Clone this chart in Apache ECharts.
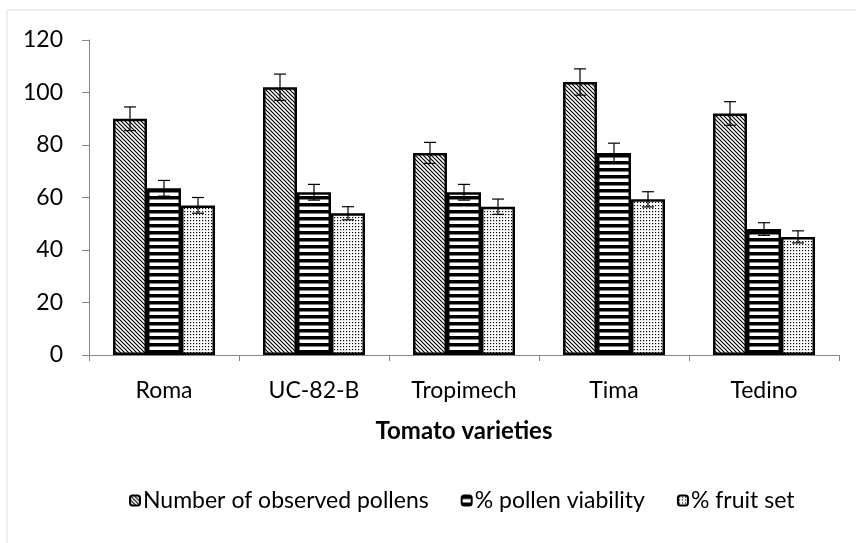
<!DOCTYPE html>
<html>
<head>
<meta charset="utf-8">
<script src="https://cdn.jsdelivr.net/npm/echarts@6/dist/echarts.min.js"></script>
<style>
  html, body { margin: 0; padding: 0; background: #fff; }
  #chart { width: 856px; height: 543px; }
</style>
</head>
<body>
<div id="chart"></div>
<script>
// 数据
const varieties = ['Roma', 'UC-82-B', 'Tropimech', 'Tima', 'Tedino'];
const seriesNames = ['Number of observed pollens', '% pollen viability', '% fruit set'];
const pollens = [90, 102, 77, 104, 92];
const pollensErr = [4.5, 5, 4, 5, 4.5];
const viability = [63.5, 62, 62, 77, 48];
const viabilityErr = [3, 3, 3, 3.7, 2.4];
const fruitSet = [57, 54, 56.5, 59.3, 45];
const fruitSetErr = [3, 2.5, 2.9, 2.9, 2.3];
const yTicks = [0, 20, 40, 60, 80, 100, 120];

const values = [pollens, viability, fruitSet];
const errors = [pollensErr, viabilityErr, fruitSetErr];

// 填充图案
function makePattern(kind) {
    const c = document.createElement('canvas');
    const ctx = c.getContext('2d');
    if (kind === 'diag') {
        c.width = 4; c.height = 4;
        ctx.fillStyle = '#fff'; ctx.fillRect(0, 0, 4, 4);
        ctx.strokeStyle = '#000'; ctx.lineWidth = 1.2;
        ctx.beginPath();
        ctx.moveTo(-1, -1); ctx.lineTo(5, 5);
        ctx.moveTo(-1, 3); ctx.lineTo(1, 5);
        ctx.moveTo(3, -1); ctx.lineTo(5, 1);
        ctx.stroke();
    } else if (kind === 'hstripe') {
        c.width = 8; c.height = 7;
        ctx.fillStyle = '#fff'; ctx.fillRect(0, 0, 8, 7);
        ctx.fillStyle = '#000'; ctx.fillRect(0, 0, 8, 3.5);
    } else {
        c.width = 3; c.height = 3;
        ctx.fillStyle = '#fff'; ctx.fillRect(0, 0, 3, 3);
        ctx.fillStyle = '#000'; ctx.fillRect(1, 1, 1.2, 1.2);
    }
    return { image: c, repeat: 'repeat' };
}
const patterns = [makePattern('diag'), makePattern('hstripe'), makePattern('dots')];

const barCatGap = 0.32;

// 误差线
function errorSeries(idx) {
    return {
        type: 'custom',
        name: seriesNames[idx] + ' err',
        z: 10,
        silent: true,
        data: varieties.map((v, i) => [i, values[idx][i] - errors[idx][i], values[idx][i] + errors[idx][i]]),
        renderItem: (params, api) => {
            const catW = api.size([1, 0])[0];
            const barW = catW * (1 - barCatGap) / 3;
            const off = (idx - 1) * barW;
            const lo = api.coord([api.value(0), api.value(1)]);
            const hi = api.coord([api.value(0), api.value(2)]);
            const x = lo[0] + off;
            const hw = 6;
            const style = { stroke: '#000', lineWidth: 1.2 };
            return {
                type: 'group',
                children: [
                    { type: 'line', shape: { x1: x, y1: lo[1], x2: x, y2: hi[1] }, style },
                    { type: 'line', shape: { x1: x - hw, y1: lo[1], x2: x + hw, y2: lo[1] }, style },
                    { type: 'line', shape: { x1: x - hw, y1: hi[1], x2: x + hw, y2: hi[1] }, style }
                ]
            };
        }
    };
}

const font = 'Lato, "Open Sans", sans-serif';

const chart = echarts.init(document.getElementById('chart'));
chart.setOption({
    animation: false,
    textStyle: { fontFamily: font },
    grid: { left: 89, right: 17, top: 40, bottom: 188 },
    legend: {
        top: 484,
        left: 124,
        itemWidth: 10,
        itemHeight: 10,
        itemGap: 32,
        data: seriesNames,
        textStyle: { fontSize: 23, color: '#000', fontFamily: font, padding: [0, 0, 0, -2] }
    },
    xAxis: {
        type: 'category',
        data: varieties,
        name: 'Tomato varieties',
        nameLocation: 'middle',
        nameGap: 64,
        nameTextStyle: { fontSize: 24, fontWeight: 'bold', color: '#000' },
        axisLine: { lineStyle: { color: '#868686', width: 1 } },
        axisTick: { show: true, length: 6, lineStyle: { color: '#868686' } },
        axisLabel: { fontSize: 23, color: '#000', margin: 24 }
    },
    yAxis: {
        type: 'value',
        min: yTicks[0],
        max: yTicks[yTicks.length - 1],
        interval: 20,
        splitLine: { show: false },
        axisLine: { show: true, lineStyle: { color: '#868686', width: 1 } },
        axisTick: { show: true, length: 7, lineStyle: { color: '#868686' } },
        axisLabel: { fontSize: 23, color: '#000', margin: 26 }
    },
    graphic: [
        { type: 'line', shape: { x1: 7, y1: 10, x2: 856, y2: 10 }, style: { stroke: '#d9dee6', lineWidth: 1 } },
        { type: 'line', shape: { x1: 7, y1: 10, x2: 7, y2: 543 }, style: { stroke: '#d9dee6', lineWidth: 1 } }
    ],
    series: [
        ...seriesNames.map((name, idx) => ({
            type: 'bar',
            name: name,
            data: values[idx],
            barGap: '0%',
            barCategoryGap: (barCatGap * 100) + '%',
            itemStyle: { color: patterns[idx], borderColor: '#000', borderWidth: 2.5 }
        })),
        errorSeries(0), errorSeries(1), errorSeries(2)
    ]
});
</script>
</body>
</html>
